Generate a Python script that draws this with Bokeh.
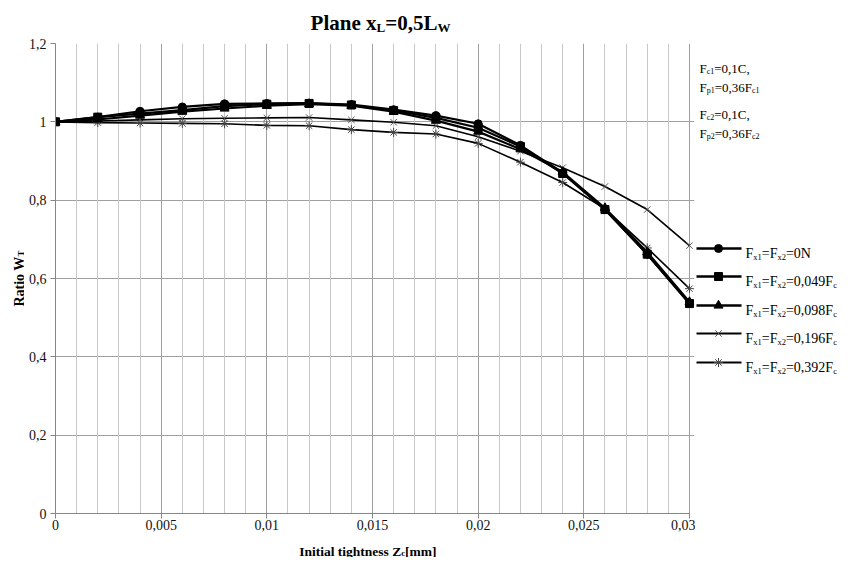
import numpy as np
from bokeh.plotting import figure
from bokeh.layouts import row, column
from bokeh.models import Range1d, FixedTicker, Grid, CustomJSTickFormatter
from bokeh.embed import file_html
from bokeh.resources import INLINE
from bokeh.core.properties import value

# ---------------- data ----------------
tightness = [0.000, 0.002, 0.004, 0.006, 0.008, 0.010, 0.012, 0.014,
             0.016, 0.018, 0.020, 0.022, 0.024, 0.026, 0.028, 0.030]
ratio_0N = [1.000, 1.012, 1.027, 1.038, 1.046, 1.047, 1.048, 1.044,
            1.031, 1.016, 0.995, 0.940, 0.870, 0.776, 0.662, 0.536]
ratio_0049 = [1.000, 1.012, 1.021, 1.030, 1.040, 1.045, 1.047, 1.043,
              1.029, 1.010, 0.985, 0.937, 0.868, 0.776, 0.662, 0.536]
ratio_0098 = [1.000, 1.006, 1.016, 1.026, 1.034, 1.041, 1.045, 1.041,
              1.026, 1.003, 0.975, 0.930, 0.872, 0.780, 0.667, 0.540]
ratio_0196 = [1.000, 1.002, 1.005, 1.008, 1.009, 1.010, 1.011, 1.005,
              0.999, 0.990, 0.962, 0.925, 0.883, 0.835, 0.776, 0.684]
ratio_0392 = [1.000, 0.998, 0.997, 0.996, 0.995, 0.991, 0.990, 0.980,
              0.973, 0.969, 0.945, 0.897, 0.845, 0.778, 0.678, 0.574]

legend_values = ["0N", "0,049F", "0,098F", "0,196F", "0,392F"]
legend_value_subs = ["", "c", "c", "c", "c"]

x_ticks = [0, 0.005, 0.01, 0.015, 0.02, 0.025, 0.03]
x_tick_labels = ["0", "0,005", "0,01", "0,015", "0,02", "0,025", "0,03"]
y_ticks = [0, 0.2, 0.4, 0.6, 0.8, 1.0, 1.2]
y_tick_labels = ["0", "0,2", "0,4", "0,6", "0,8", "1", "1,2"]

series = [ratio_0N, ratio_0049, ratio_0098, ratio_0196, ratio_0392]

# ---------------- styles ----------------
FONT = "Liberation Serif"
styles = [
    dict(marker="circle", size=8, lw=2.2, mc="black"),
    dict(marker="square", size=8, lw=2.2, mc="black"),
    dict(marker="triangle", size=9, lw=2.2, mc="black"),
    dict(marker="x", size=9, lw=1.6, mc="#555555"),
    dict(marker="asterisk", size=9, lw=1.6, mc="#444444"),
]

REG = {'F': 556, '=': 564, ',': 250, 'C': 667, 'N': 722, 'c': 444, 'p': 500,
       'x': 500, ' ': 250, '[': 333, ']': 333, 'm': 778, 'Z': 611}
BOLD = {'P': 611, 'l': 278, 'a': 500, 'n': 556, 'e': 444, ' ': 250, 'x': 500,
        'L': 667, '=': 570, ',': 250, 'W': 1000, 'R': 722, 't': 333, 'i': 278,
        'o': 500, 'T': 667, 'I': 389, 'g': 500, 'h': 556, 's': 389, 'Z': 667,
        'c': 444, '[': 333, ']': 333, 'm': 833}


def tw(s, size, bold=False):
    t = BOLD if bold else REG
    return sum(t.get(ch, 500) for ch in s) * size / 1000.0


def seg_width(segs, size, sub_size, bold):
    return sum(tw(t, sub_size if s else size, bold) for t, s in segs)


def blank_fig(width, height, xr, yr, **kw):
    f = figure(width=width, height=height, x_range=Range1d(*xr), y_range=Range1d(*yr),
               x_axis_location=None, y_axis_location=None, toolbar_location=None,
               title=None, output_backend="svg", **kw)
    f.grid.visible = False
    f.outline_line_color = None
    f.background_fill_color = "white"
    f.border_fill_color = "white"
    return f


def rich(fig, segs, x, y, size, sub_size, bold, sub_dy, angle=0.0):
    """Draw text pieces with subscripts (picture pixels, y axis pointing up as -y)."""
    pos = x if angle == 0 else y
    for txt, sub in segs:
        if not txt:
            continue
        fs = sub_size if sub else size
        if angle == 0:
            lx, ly = pos, y + (sub_dy if sub else 0)
        else:
            lx, ly = x + (sub_dy if sub else 0), pos
        fig.text(x=[lx], y=[ly], text=[txt], angle=angle, text_font=value(FONT),
                 text_font_size=value(f"{fs}px"),
                 text_font_style="bold" if bold else "normal",
                 text_baseline="alphabetic", text_align="left", text_color="black")
        pos += tw(txt, fs, bold)


# picture layout (pixels): plot frame x 55..689 (data 0..0.03), y 43..513
TOP_H = 34
BORDER_BOTTOM = 22
MID_H = 513 + BORDER_BOTTOM - TOP_H
TOTAL_H = 557
BOT_H = TOTAL_H - TOP_H - MID_H
TOTAL_W = 840
YLAB_W = 24
BORDER_LEFT = 55 - YLAB_W
MAIN_W = 695 - YLAB_W
SIDE_W = TOTAL_W - 695
BORDER_TOP = 43 - TOP_H
FRAME_RIGHT = 694
X_END = 0.03 * (FRAME_RIGHT - 55) / (689 - 55)

# ---------------- main figure ----------------
p = figure(width=MAIN_W, height=MID_H, x_range=Range1d(0, X_END), y_range=Range1d(0, 1.2),
           min_border_left=BORDER_LEFT, min_border_right=695 - FRAME_RIGHT,
           min_border_top=BORDER_TOP, min_border_bottom=BORDER_BOTTOM,
           toolbar_location=None, output_backend="svg")
p.outline_line_color = None
p.background_fill_color = "white"
p.border_fill_color = "white"

fmt_code = "const i = tv.findIndex(t => Math.abs(t - tick) < 1e-9); return i >= 0 ? tl[i] : '';"
p.xaxis.ticker = FixedTicker(ticks=x_ticks)
p.xaxis.formatter = CustomJSTickFormatter(args=dict(tv=x_ticks, tl=x_tick_labels), code=fmt_code)
p.xaxis.bounds = (x_ticks[0], x_ticks[-1])
p.yaxis.ticker = FixedTicker(ticks=y_ticks)
p.yaxis.formatter = CustomJSTickFormatter(args=dict(tv=y_ticks, tl=y_tick_labels), code=fmt_code)

for ax in (p.xaxis, p.yaxis):
    ax.axis_line_color = "#868686"
    ax.major_tick_line_color = "#868686"
    ax.major_tick_out = 5
    ax.major_tick_in = 0
    ax.minor_tick_line_color = None
    ax.major_label_text_font = FONT
    ax.major_label_text_font_size = "14px"
    ax.major_label_text_color = "#111111"
p.xaxis.major_label_standoff = 1
p.yaxis.major_label_standoff = 4

p.xgrid.ticker = FixedTicker(ticks=x_ticks)
p.xgrid.grid_line_color = "#a0a0a0"
p.ygrid.ticker = FixedTicker(ticks=y_ticks)
p.ygrid.grid_line_color = "#a0a0a0"
minor_x = [round(i * 0.001, 3) for i in range(31) if i % 5 != 0]
p.add_layout(Grid(dimension=0, ticker=FixedTicker(ticks=minor_x), grid_line_color="#c8c8c8"))

for ys, st in reversed(list(zip(series, styles))):
    p.line(tightness, ys, line_color="black", line_width=st["lw"])
    p.scatter(tightness, ys, marker=st["marker"], size=st["size"],
              fill_color=st["mc"], line_color=st["mc"], line_width=1)

# ---------------- title strip ----------------
top = blank_fig(TOTAL_W, TOP_H, (0, TOTAL_W), (-TOP_H, 0), min_border=0)
title_segs = [("Plane x", False), ("L", True), ("=0,5L", False), ("W", True)]
w_title = seg_width(title_segs, 21, 13, True)
rich(top, title_segs, 380 - w_title / 2, -22, 21, 13, True, -5)

# ---------------- y label strip ----------------
ylab = blank_fig(YLAB_W, MID_H, (0, YLAB_W), (-513, -43), min_border_left=0,
                 min_border_right=0, min_border_top=BORDER_TOP,
                 min_border_bottom=BORDER_BOTTOM)
yl_segs = [("Ratio W", False), ("T", True)]
w_yl = seg_width(yl_segs, 14, 9, True)
rich(ylab, yl_segs, 18.5, -(278 + w_yl / 2), 14, 9, True, 1.5, angle=np.pi / 2)

# ---------------- side panel (notes + legend) ----------------
side = blank_fig(SIDE_W, MID_H, (695, TOTAL_W), (-513, -43), min_border_left=0,
                 min_border_right=0, min_border_top=BORDER_TOP,
                 min_border_bottom=BORDER_BOTTOM)

notes = [
    [("F", False), ("c1", True), ("=0,1C,", False)],
    [("F", False), ("p1", True), ("=0,36F", False), ("c1", True)],
    [("F", False), ("c2", True), ("=0,1C,", False)],
    [("F", False), ("p2", True), ("=0,36F", False), ("c2", True)],
]
for segs, yc in zip(notes, [63, 82, 109, 128]):
    rich(side, segs, 699, -(yc + 4.5), 13, 8, False, -3.5)

legend_rows = [248, 276, 305, 333, 362]
for i, (st, yc) in enumerate(zip(styles, legend_rows)):
    side.segment(x0=[696], y0=[-yc], x1=[741], y1=[-yc], line_color="black",
                 line_width=st["lw"] + 0.3)
    side.scatter([718], [-yc], marker=st["marker"], size=st["size"],
                 fill_color=st["mc"], line_color=st["mc"])
    segs = [("F", False), ("x1", True), ("=F", False), ("x2", True),
            ("=" + legend_values[i], False), (legend_value_subs[i], True)]
    rich(side, segs, 745, -(yc + 4.5), 14, 8.5, False, -3.5)

# ---------------- x label strip ----------------
y_bot0 = TOP_H + MID_H
bot = blank_fig(TOTAL_W, BOT_H, (0, TOTAL_W), (-(y_bot0 + BOT_H), -y_bot0), min_border=0)
xl_segs = [("Initial tightness Z", False), ("c", True), (" [mm]", False)]
w_xl = seg_width(xl_segs, 13.5, 8.5, True)
rich(bot, xl_segs, 369 - w_xl / 2, -550.5, 13.5, 8.5, True, -1.5)

layout = column(top, row(ylab, p, side), bot)
open("out.html", "w").write(file_html(layout, INLINE))
